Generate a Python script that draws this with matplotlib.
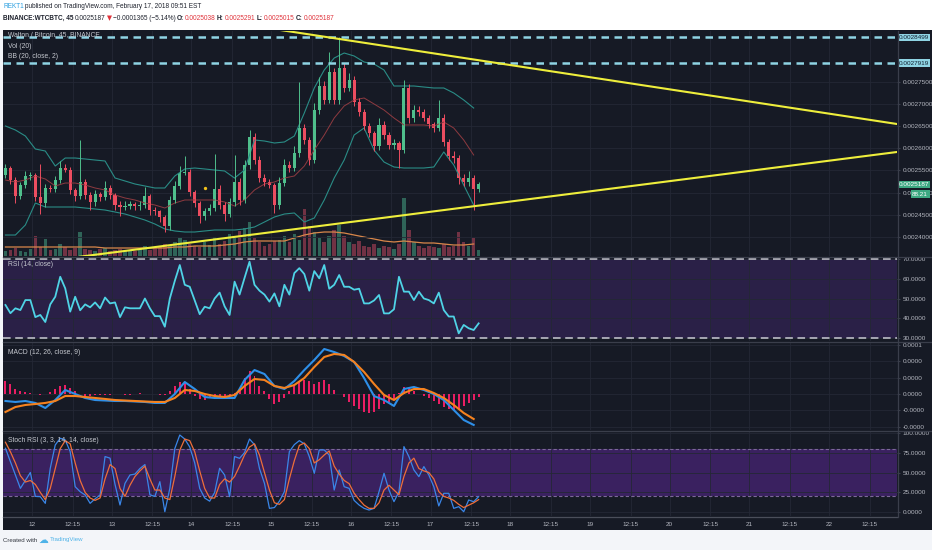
import matplotlib
matplotlib.use('Agg')
import matplotlib.pyplot as plt
import matplotlib.ticker as mticker
import matplotlib.transforms as mtrans
from matplotlib import font_manager
from matplotlib.patches import Rectangle
from matplotlib.lines import Line2D
import numpy as np

# ---- data (prices in satoshi, x in days of Feb 2018) ----
t0 = 11.6667        # first bar: Feb 11, 16:00
bar_days = 0.0625   # spacing of the drawn bars

first_open = 254000
close_sats = [255560, 252860, 249260, 251730, 253760, 253990, 249030, 247680, 251060, 250800,
              252860, 255560, 255110, 250610, 249260, 252410, 249480, 247910, 249710, 249030,
              251060, 249480, 247230, 246780, 247000, 247460, 246900, 247230, 249260, 246100,
              245800, 244530, 242500, 248360, 251510, 254440, 254600, 250160, 247680, 244750,
              245880, 246550, 250830, 247230, 245200, 247910, 252410, 248360, 256240, 262540,
              257360, 253310, 252410, 251730, 247230, 252180, 256240, 255560, 258940, 264570,
              261870, 257360, 268620, 274030, 270880, 277180, 270880, 278080, 273580, 275380,
              270430, 268170, 265020, 263440, 260520, 265250, 262990, 260740, 261190, 259620,
              273580, 266820, 268620, 268170, 266820, 265470, 264570, 266820, 261420, 258260,
              257810, 253310, 252410, 253310, 250830, 251870]
wick_up = [900, 500, 600, 700, 1200, 600, 500, 7400, 900, 600,
           800, 1500, 900, 700, 500, 9500, 700, 600, 900, 500,
           1500, 600, 500, 900, 1200, 600, 500, 800, 2000, 500,
           600, 400, 500, 900, 1200, 1500, 3600, 700, 500, 500,
           700, 1000, 7900, 900, 600, 800, 6100, 900, 1200, 1500,
           800, 900, 1000, 700, 500, 1300, 1400, 800, 1600, 10400,
           900, 700, 1500, 2000, 1200, 4500, 900, 7000, 1200, 1500,
           900, 800, 700, 600, 500, 1500, 800, 600, 900, 500,
           1800, 900, 1200, 800, 700, 600, 500, 4000, 800, 600,
           1200, 600, 900, 1500, 700, 500]
wick_dn = [600, 800, 1500, 700, 600, 800, 900, 2500, 800, 700,
           600, 700, 500, 900, 1200, 700, 900, 1800, 800, 1000,
           600, 800, 1200, 2000, 700, 600, 800, 700, 600, 1200,
           900, 1100, 1400, 800, 600, 700, 500, 900, 1000, 1500,
           800, 900, 700, 1000, 1600, 700, 800, 1200, 700, 900,
           1000, 800, 900, 700, 1800, 800, 700, 900, 600, 800,
           900, 1200, 700, 800, 900, 700, 1000, 900, 800, 700,
           900, 800, 1000, 900, 1200, 800, 900, 1000, 900, 4000,
           700, 1200, 800, 900, 700, 800, 900, 700, 1000, 900,
           1100, 1300, 900, 800, 4700, 600]
volume = [5, 6, 8, 5, 4, 7, 20, 9, 17, 6,
          7, 12, 9, 6, 8, 24, 7, 6, 5, 7,
          8, 5, 6, 7, 5, 6, 5, 7, 10, 6,
          8, 9, 12, 10, 14, 18, 16, 12, 10, 9,
          14, 11, 19, 12, 15, 22, 18, 25, 28, 34,
          18, 14, 10, 12, 15, 16, 20, 14, 22, 16,
          47, 30, 24, 18, 14, 20, 26, 31, 20, 14,
          12, 15, 10, 9, 12, 8, 10, 9, 7, 12,
          58, 26, 14, 10, 8, 10, 9, 8, 12, 9,
          10, 24, 14, 10, 18, 6]

# every second bar
vol_ma = [9, 9, 9, 9, 9, 9, 9, 9, 9, 9, 8, 8, 8, 8, 8, 8, 8, 9, 9, 10,
          10, 10, 11, 12, 14, 15, 15, 15, 15, 18, 21, 23, 24, 24, 23, 21, 19, 17, 15, 14,
          15, 14, 13, 13, 12, 11, 11, 12]
bb_upper = [265020, 264120, 262770, 259840, 259390, 256010, 257810, 257810, 257590, 257360,
            257140, 253310, 252640, 251960, 251510, 251060, 251060, 253760, 255340, 255560,
            255340, 255110, 254890, 253300, 255110, 261870, 261640, 261190, 261420, 262770,
            267950, 273580, 277630, 280330, 281460, 280790, 279430, 278980, 277630, 274030,
            274030, 274030, 273800, 273580, 273580, 272450, 270880, 269070]
bb_mid = [252860, 252410, 252860, 253760, 253090, 251510, 252180, 252180, 251730, 251060,
          250610, 249480, 248810, 248360, 247680, 247230, 246550, 247680, 248360, 248360,
          248360, 248360, 247910, 247000, 248360, 250610, 251960, 252410, 253310, 253760,
          256010, 259620, 262990, 266820, 269530, 270880, 271330, 269980, 268620, 266820,
          265250, 265250, 265250, 265020, 265920, 264570, 261870, 258490]
bb_lower = [240470, 240470, 242730, 247680, 246780, 246780, 246780, 246780, 246550, 246330,
            246100, 245650, 245200, 244530, 243850, 242950, 241830, 241380, 241150, 241150,
            241380, 241600, 241600, 241600, 241830, 242280, 243400, 244530, 245200, 245430,
            243400, 244300, 248360, 253310, 257360, 262990, 264570, 259620, 256910, 255790,
            255560, 255560, 255560, 255790, 259170, 256240, 251730, 247230]

# MACD in micro-BTC, every second bar
macd = [-8.6, -9.8, -8.6, -11.0, -17.2, -7.4, 4.9, 0.0, -4.9, -7.4,
        -8.0, -8.6, -8.6, -9.2, -9.8, -11.0, -11.0, 0.0, 14.7, 6.1,
        -3.7, -4.9, -4.9, -4.9, 17.2, 29.4, 24.5, 9.8, 6.1, 16.0,
        29.4, 41.7, 55.2, 51.5, 46.6, 39.3, 19.6, -2.5, -7.4, -14.7,
        6.1, 8.6, 4.9, 0.0, -7.4, -19.6, -31.9, -38.0]
signal = [-22.1, -16.0, -13.5, -12.3, -11.0, -8.6, -2.5, -2.5, -3.7, -4.9,
          -6.1, -7.4, -8.0, -8.6, -9.2, -9.8, -9.8, -4.9, 4.9, 3.7,
          0.0, -2.5, -3.7, -1.2, 9.8, 18.4, 17.2, 9.8, 7.4, 11.0,
          19.6, 33.1, 45.4, 49.1, 47.9, 39.3, 27.0, 12.3, -1.2, -7.4,
          1.2, 6.1, 6.1, 1.2, -4.9, -13.5, -23.3, -30.7]
# histogram, every bar
hist = [16, 12, 6, 4, 2, 1, 0, -1, 0, 2,
        6, 10, 11, 7, 4, 0, -2, -2, -1, -1,
        -1, -1, 0, 0, -1, -1, 0, 1, 0, 0,
        0, -1, -1, 4, 10, 15, 13, 6, -2, -6,
        -7, -5, -4, -2, -2, -1, 1, 7, 20, 28,
        22, 10, 4, -6, -12, -10, -5, 4, 10, 16,
        17, 16, 12, 15, 17, 12, 5, 0, -4, -10,
        -15, -19, -22, -23, -22, -18, -12, -10, -6, 1,
        8, 7, 4, 0, -2, -5, -8, -12, -16, -19,
        -20, -18, -15, -11, -7, -4]

rsi = [46.7, 42.5, 45.0, 44.1, 49.2, 49.2, 40.5, 41.6, 38.0, 47.0,
       50.9, 61.1, 55.2, 43.3, 50.9, 44.0, 47.0, 45.5, 48.0, 45.0,
       50.5, 47.5, 48.0, 40.5, 45.5, 45.0, 45.0, 45.0, 50.0, 45.0,
       41.0, 41.0, 35.6, 50.0, 59.0, 67.1, 57.0, 56.0, 49.0, 42.0,
       45.8, 45.0, 50.0, 53.0, 46.0, 41.6, 58.6, 52.0, 60.5, 68.8,
       57.0, 54.0, 52.0, 48.4, 52.6, 46.0, 57.0, 52.0, 63.0, 65.5,
       62.5, 54.0, 64.0, 60.3, 67.1, 55.0, 57.0, 62.0, 56.0, 56.0,
       54.5, 55.0, 47.5, 47.5, 49.0, 51.8, 42.4, 42.4, 44.5, 61.1,
       53.5, 53.5, 49.2, 53.5, 50.0, 49.2, 47.5, 53.0, 44.1, 40.8,
       40.8, 32.2, 36.5, 34.8, 33.9, 37.3]

stoch_k = [80.4, 63.6, 46.9, 30.1, 40.0, 50.0, 20.0, 19.7, 11.3, 55.3,
           84.6, 93.0, 90.9, 76.2, 32.2, 25.9, 21.8, 11.3, 17.0, 21.8,
           70.0, 68.0, 35.0, 9.2, 36.4, 46.9, 48.0, 55.0, 60.0, 22.0,
           20.0, 38.5, 0.8, 30.0, 80.0, 97.1, 92.0, 82.0, 62.0, 30.1,
           18.0, 14.0, 25.0, 55.3, 46.9, 19.7, 70.0, 67.8, 75.0, 92.0,
           85.0, 55.0, 36.4, 5.0, 6.0, 14.0, 25.9, 76.2, 85.0, 90.0,
           86.0, 70.0, 49.0, 78.3, 78.3, 72.0, 28.0, 53.2, 32.2, 30.1,
           15.0, 9.2, 5.0, 2.9, 5.0, 25.9, 49.0, 28.0, 13.4, 25.9,
           82.5, 69.9, 53.2, 44.8, 57.4, 46.9, 32.2, 8.0, 23.9, 23.9,
           5.0, 7.1, 0.8, 15.5, 13.4, 19.7]
stoch_d = [88, 76, 62, 46, 38, 40, 35, 25, 16, 30,
           55, 80, 90, 86, 62, 40, 25, 18, 15, 18,
           42, 60, 55, 30, 20, 34, 45, 52, 58, 42,
           28, 28, 18, 16, 45, 78, 92, 90, 76, 52,
           30, 18, 18, 35, 42, 38, 45, 58, 72, 82,
           86, 72, 50, 28, 12, 10, 16, 42, 65, 84,
           87, 80, 62, 66, 72, 77, 58, 48, 40, 36,
           24, 16, 9, 5, 5, 12, 28, 34, 28, 22,
           45, 62, 68, 55, 52, 50, 42, 26, 20, 18,
           15, 10, 6, 9, 12, 16]

trend_hi_t = [14.861, 22.853]
trend_hi_p = [287338, 265471]
trend_lo_t = [12.602, 22.853]
trend_lo_p = [235588, 259166]
levels = [284990, 279190]
marker_t, marker_p = 14.171, 251060
last_price = 251870

day_ticks = list(range(12, 23))
# ---------------------------------------------------------------------------

names = {f.name for f in font_manager.fontManager.ttflist}
narrow = 'Liberation Sans Narrow' in names
base = 'Liberation Sans Narrow' if narrow else 'Liberation Sans'
plt.rcParams['font.family'] = [base, 'DejaVu Sans']
fs = 5.3 if narrow else 4.6

W, H = 932, 550
XMIN, XMAX = 11.6361, 22.8532
BG = '#161a25'
GRID = '#242835'
SEP = '#3a3e4b'
TXT = '#c5c8cf'
AXT = '#b4b7c0'
UP, DN = '#4fbf8c', '#ec4d60'

fig = plt.figure(figsize=(W / 100, H / 100), dpi=100)
fig.patch.set_facecolor('#f3f5f9')
fig.patches.append(Rectangle((0, 1 - 30 / H), 1, 30 / H, transform=fig.transFigure,
                             facecolor='white', edgecolor='none', zorder=-10))
fig.patches.append(Rectangle((3 / W, 1 - 530 / H), (W - 3) / W, 500 / H,
                             transform=fig.transFigure, facecolor=BG, edgecolor='none', zorder=-10))

xt, xl = [], []
for d in day_ticks:
    xt += [d, d + 0.51]
    xl += [str(d), '12:15']


def panel(y0, y1, face=BG):
    a = fig.add_axes([3 / W, 1 - y1 / H, 894 / W, (y1 - y0) / H])
    a.set_facecolor(face)
    a.set_xlim(XMIN, XMAX)
    for s in a.spines.values():
        s.set_visible(False)
    a.set_xticks(xt)
    a.tick_params(axis='x', length=0, labelbottom=False)
    a.yaxis.tick_right()
    a.tick_params(axis='y', length=2, color=SEP, labelsize=fs, labelcolor=AXT, pad=2)
    a.grid(True, color=GRID, lw=0.6)
    a.set_axisbelow(True)
    return a


t = t0 + np.arange(len(close_sats)) * bar_days
t2 = t[::2]
c = np.array(close_sats)
o = np.r_[first_open, c[:-1]]
hi = np.maximum(o, c) + np.array(wick_up)
lo = np.minimum(o, c) - np.array(wick_dn)
up = c >= o
cols = np.where(up, UP, DN)

# volume layer under the price
ax_v = panel(31, 256)
ax_v.set_ylim(0, 225)
ax_v.set_yticks([])
ax_v.bar(t, volume, width=bar_days * 0.7, color=np.where(up, '#2f6458', '#713244'), linewidth=0)
ax_v.plot(t2, vol_ma, color='#d9874a', lw=0.9)

ax_p = panel(31, 256, face='none')
ax_p.grid(axis='x', visible=False)
ax_p.set_ylim(235745, 286415)
ax_p.set_yticks(np.arange(240000, 275001, 5000))
ax_p.yaxis.set_major_formatter(mticker.FuncFormatter(lambda v, _: f'{v / 1e8:.7f}'))
ax_p.plot(t2, bb_upper, color='#2a8c86', lw=0.8)
ax_p.plot(t2, bb_lower, color='#2a8c86', lw=0.8)
ax_p.plot(t2, bb_mid, color='#8e3a40', lw=0.7)
ax_p.vlines(t, lo, hi, colors=cols, lw=0.7)
ax_p.bar(t, np.maximum(np.abs(c - o), 250), bottom=np.minimum(o, c), width=bar_days * 0.62,
         color=cols, linewidth=0)
for lv in levels:
    ax_p.axhline(lv, color='#8fd4e4', lw=1.8, ls=(0, (3, 2.2)))
ax_p.plot(trend_hi_t, trend_hi_p, color='#eeee3c', lw=1.5)
ax_p.plot(trend_lo_t, trend_lo_p, color='#eeee3c', lw=1.5)
ax_p.plot(marker_t, marker_p, 'o', ms=2.4, color='#f2c21b', mec='none')

blend = mtrans.blended_transform_factory(ax_p.transAxes, ax_p.transData)
for lv in levels:
    ax_p.text(1.002, lv, f'{lv / 1e8:.7f}', transform=blend, ha='left', va='center',
              fontsize=fs, color='#102030', clip_on=False,
              bbox=dict(boxstyle='square,pad=0.2', fc='#8fd4e4', ec='none'))
ax_p.text(1.002, last_price, f'{last_price / 1e8:.7f}', transform=blend, ha='left', va='center',
          fontsize=fs, color='white', clip_on=False,
          bbox=dict(boxstyle='square,pad=0.2', fc='#3da982', ec='none'))
ax_p.text(1.017, 249650, '88.21', transform=blend, ha='left', va='center', fontsize=fs,
          color='white', clip_on=False,
          bbox=dict(boxstyle='square,pad=0.25', fc='#3da982', ec='none'))

# RSI
ax_r = panel(257, 341)
ax_r.set_ylim(28.3, 71.2)
ax_r.set_yticks([30, 40, 50, 60, 70])
ax_r.yaxis.set_major_formatter(mticker.FormatStrFormatter('%.4f'))
ax_r.axhspan(30, 70, color='#2a2047', lw=0, zorder=0.5)
for lv in (70, 30):
    ax_r.axhline(lv, color='#c9cad2', lw=1.1, ls=(0, (5, 3)))
ax_r.plot(t, rsi, color='#4fd3e6', lw=1.3)

# MACD
ax_m = panel(342, 430)
ax_m.set_ylim(-44.2, 63.8)
ax_m.set_yticks([-40, -20, 0, 20, 40, 60])
ax_m.yaxis.set_major_formatter(mticker.FuncFormatter(lambda v, _: f'{v * 1e-6:.4f}'))
ax_m.bar(t, hist, width=bar_days * 0.4, color='#e91e63', linewidth=0)
ax_m.plot(t2, macd, color='#2e8fe8', lw=1.5)
ax_m.plot(t2, signal, color='#f5821f', lw=1.5)

# Stoch RSI
ax_s = panel(431, 516)
ax_s.set_ylim(-4.6, 102.1)
ax_s.set_yticks([0, 25, 50, 75, 100])
ax_s.yaxis.set_major_formatter(mticker.FormatStrFormatter('%.4f'))
ax_s.axhspan(20, 80, color='#3a2160', lw=0, zorder=0.5)
for lv in (80, 20):
    ax_s.axhline(lv, color='#7c6898', lw=0.8, ls=(0, (3, 2)))
ax_s.plot(t, stoch_k, color='#3a86e8', lw=0.9)
ax_s.plot(t, stoch_d, color='#ee6e3a', lw=0.9)
ax_s.set_xticklabels(xl)
ax_s.tick_params(axis='x', labelbottom=True, labelsize=fs, labelcolor=AXT, pad=4)

# separators
for yy in (256.5, 341.5, 430.5):
    fig.add_artist(Line2D([3 / W, 1], [1 - yy / H] * 2, color=SEP, lw=0.9))
fig.add_artist(Line2D([3 / W, 897 / W], [1 - 516.5 / H] * 2, color='#4a4e5a', lw=0.9))
fig.add_artist(Line2D([897.5 / W] * 2, [1 - 31 / H, 1 - 516.5 / H], color=SEP, lw=0.9))


def ptxt(x, y, s, **kw):
    kw.setdefault('fontsize', fs + 0.3)
    kw.setdefault('color', TXT)
    return fig.text(x / W, 1 - y / H, s, ha='left', va='center', **kw)


ptxt(8, 35, 'Walton / Bitcoin, 45, BINANCE')
ptxt(8, 46, 'Vol (20)')
ptxt(8, 56, 'BB (20, close, 2)')
ptxt(8, 265, 'RSI (14, close)')
ptxt(8, 352, 'MACD (12, 26, close, 9)')
ptxt(8, 440, 'Stoch RSI (3, 3, 14, 14, close)')

# header and footer
renderer = fig.canvas.get_renderer()


def chain(x, y, parts, size):
    for s, kw in parts:
        kw = dict(kw)
        kw.setdefault('fontsize', size)
        tx = ptxt(x, y, s, **kw)
        x = tx.get_window_extent(renderer).x1 + 1.2


RED = '#e0323a'
DK = '#1e222d'
hs = 6.0 if narrow else 4.7
chain(3, 7, [('REKT1', dict(color='#2a9fe0')),
             ('published on TradingView.com, February 17, 2018 09:51 EST', dict(color=DK))], hs)
chain(3, 18, [('BINANCE:WTCBTC, 45', dict(color=DK, fontweight='bold')),
              ('0.0025187', dict(color=DK)),
              ('\u25bc', dict(color=RED, family=['DejaVu Sans'])),
              ('\u22120.0001365 (\u22125.14%)', dict(color=DK)),
              ('O:', dict(color=DK, fontweight='bold')), ('0.0025038', dict(color=RED)),
              ('H:', dict(color=DK, fontweight='bold')), ('0.0025291', dict(color=RED)),
              ('L:', dict(color=DK, fontweight='bold')), ('0.0025015', dict(color=RED)),
              ('C:', dict(color=DK, fontweight='bold')), ('0.0025187', dict(color=RED))], hs)
chain(3, 540, [('Created with', dict(color='#333740')),
               ('\u2601', dict(color='#4fb3e8', family=['DejaVu Sans'], fontsize=7)),
               ('TradingView', dict(color='#4fb3e8'))], hs - 0.3)

fig.savefig('out.png', dpi=100, facecolor=fig.get_facecolor())
